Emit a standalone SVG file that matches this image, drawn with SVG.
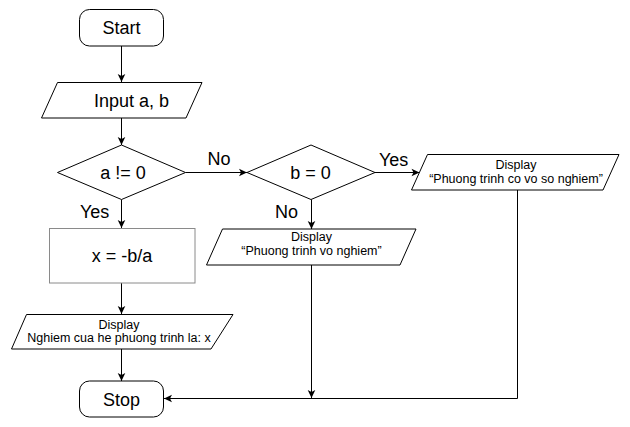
<svg xmlns="http://www.w3.org/2000/svg" width="630" height="427" viewBox="0 0 630 427">
  <style>
    .shape { fill: #ffffff; stroke: #000000; stroke-width: 1; }
    .gray { stroke: #8a8a8a; }
    .big { font-family: "Liberation Sans", Arial, sans-serif; font-size: 18px; fill: #000; text-anchor: middle; }
    .small { font-family: "Liberation Sans", Arial, sans-serif; font-size: 12.5px; fill: #000; text-anchor: middle; }
    .lbl { font-family: "Liberation Sans", Arial, sans-serif; font-size: 18px; fill: #000; }
    .conn { fill: none; stroke: #000000; stroke-width: 1; }
  </style>
  <defs>
    <marker id="arrow" markerUnits="userSpaceOnUse" markerWidth="10" markerHeight="10" viewBox="0 0 10 10" refX="9" refY="5" orient="auto">
      <path d="M1,1.2 L9,5 L1,8.8 L3,5 Z" fill="#000"/>
    </marker>
  </defs>

  <rect width="630" height="427" fill="#ffffff"/>

  <g id="connectors">
    <path class="conn" d="M121.5,46 L121.5,82" marker-end="url(#arrow)"/>
    <path class="conn" d="M121.5,118 L121.5,145" marker-end="url(#arrow)"/>
    <path class="conn" d="M185.5,172.5 L247,172.5" marker-end="url(#arrow)"/>
    <path class="conn" d="M375,172.5 L419.5,172.5" marker-end="url(#arrow)"/>
    <path class="conn" d="M311.5,199.5 L311.5,229" marker-end="url(#arrow)"/>
    <path class="conn" d="M121.5,199.5 L121.5,228" marker-end="url(#arrow)"/>
    <path class="conn" d="M121.5,283 L121.5,314" marker-end="url(#arrow)"/>
    <path class="conn" d="M121.5,349 L121.5,381" marker-end="url(#arrow)"/>
    <path class="conn" d="M311.5,265 L311.5,398" marker-end="url(#arrow)"/>
    <path class="conn" d="M517.5,190 L517.5,398.5 L164,398.5" marker-end="url(#arrow)"/>
    <text class="lbl" x="207.5" y="165">No</text>
    <text class="lbl" x="379" y="166">Yes</text>
    <text class="lbl" x="80" y="218">Yes</text>
    <text class="lbl" x="275" y="218">No</text>
  </g>

  <g id="start">
    <rect class="shape" x="79.5" y="9.5" width="84" height="36.5" rx="10" ry="10"/>
    <text class="big" x="121.5" y="34">Start</text>
  </g>

  <g id="input">
    <polygon class="shape" points="57.5,82.5 202,82.5 186,118 41.5,118"/>
    <text class="big" x="131.5" y="106.5">Input a, b</text>
  </g>

  <g id="cond-a">
    <polygon class="shape" points="121.5,145 185.5,172.5 121.5,199.5 57.5,172.5"/>
    <text class="big" x="123" y="179">a != 0</text>
  </g>

  <g id="cond-b">
    <polygon class="shape" points="311,145 375,172.5 311,199.5 247,172.5"/>
    <text class="big" x="310.5" y="179">b = 0</text>
  </g>

  <g id="display-infinite">
    <polygon class="shape" points="427.5,154.5 619,154.5 603,190 411.5,190"/>
    <text class="small" x="516" y="169">Display</text>
    <text class="small" x="516" y="182.5">“Phuong trinh co vo so nghiem”</text>
  </g>

  <g id="display-none">
    <polygon class="shape" points="222.5,229 416,229 400,265 206.5,265"/>
    <text class="small" x="311.5" y="241">Display</text>
    <text class="small" x="311.5" y="255">“Phuong trinh vo nghiem”</text>
  </g>

  <g id="compute">
    <rect class="shape gray" x="49.5" y="228.5" width="145.5" height="54.5"/>
    <text class="big" x="122" y="262">x = -b/a</text>
  </g>

  <g id="display-result">
    <polygon class="shape" points="26.5,314.5 233,314.5 211,349 11.5,349"/>
    <text class="small" x="119" y="329">Display</text>
    <text class="small" x="119" y="342">Nghiem cua he phuong trinh la: x</text>
  </g>

  <g id="stop">
    <rect class="shape" x="79.5" y="381" width="84" height="36" rx="10" ry="10"/>
    <text class="big" x="121.5" y="405.5">Stop</text>
  </g>
</svg>
